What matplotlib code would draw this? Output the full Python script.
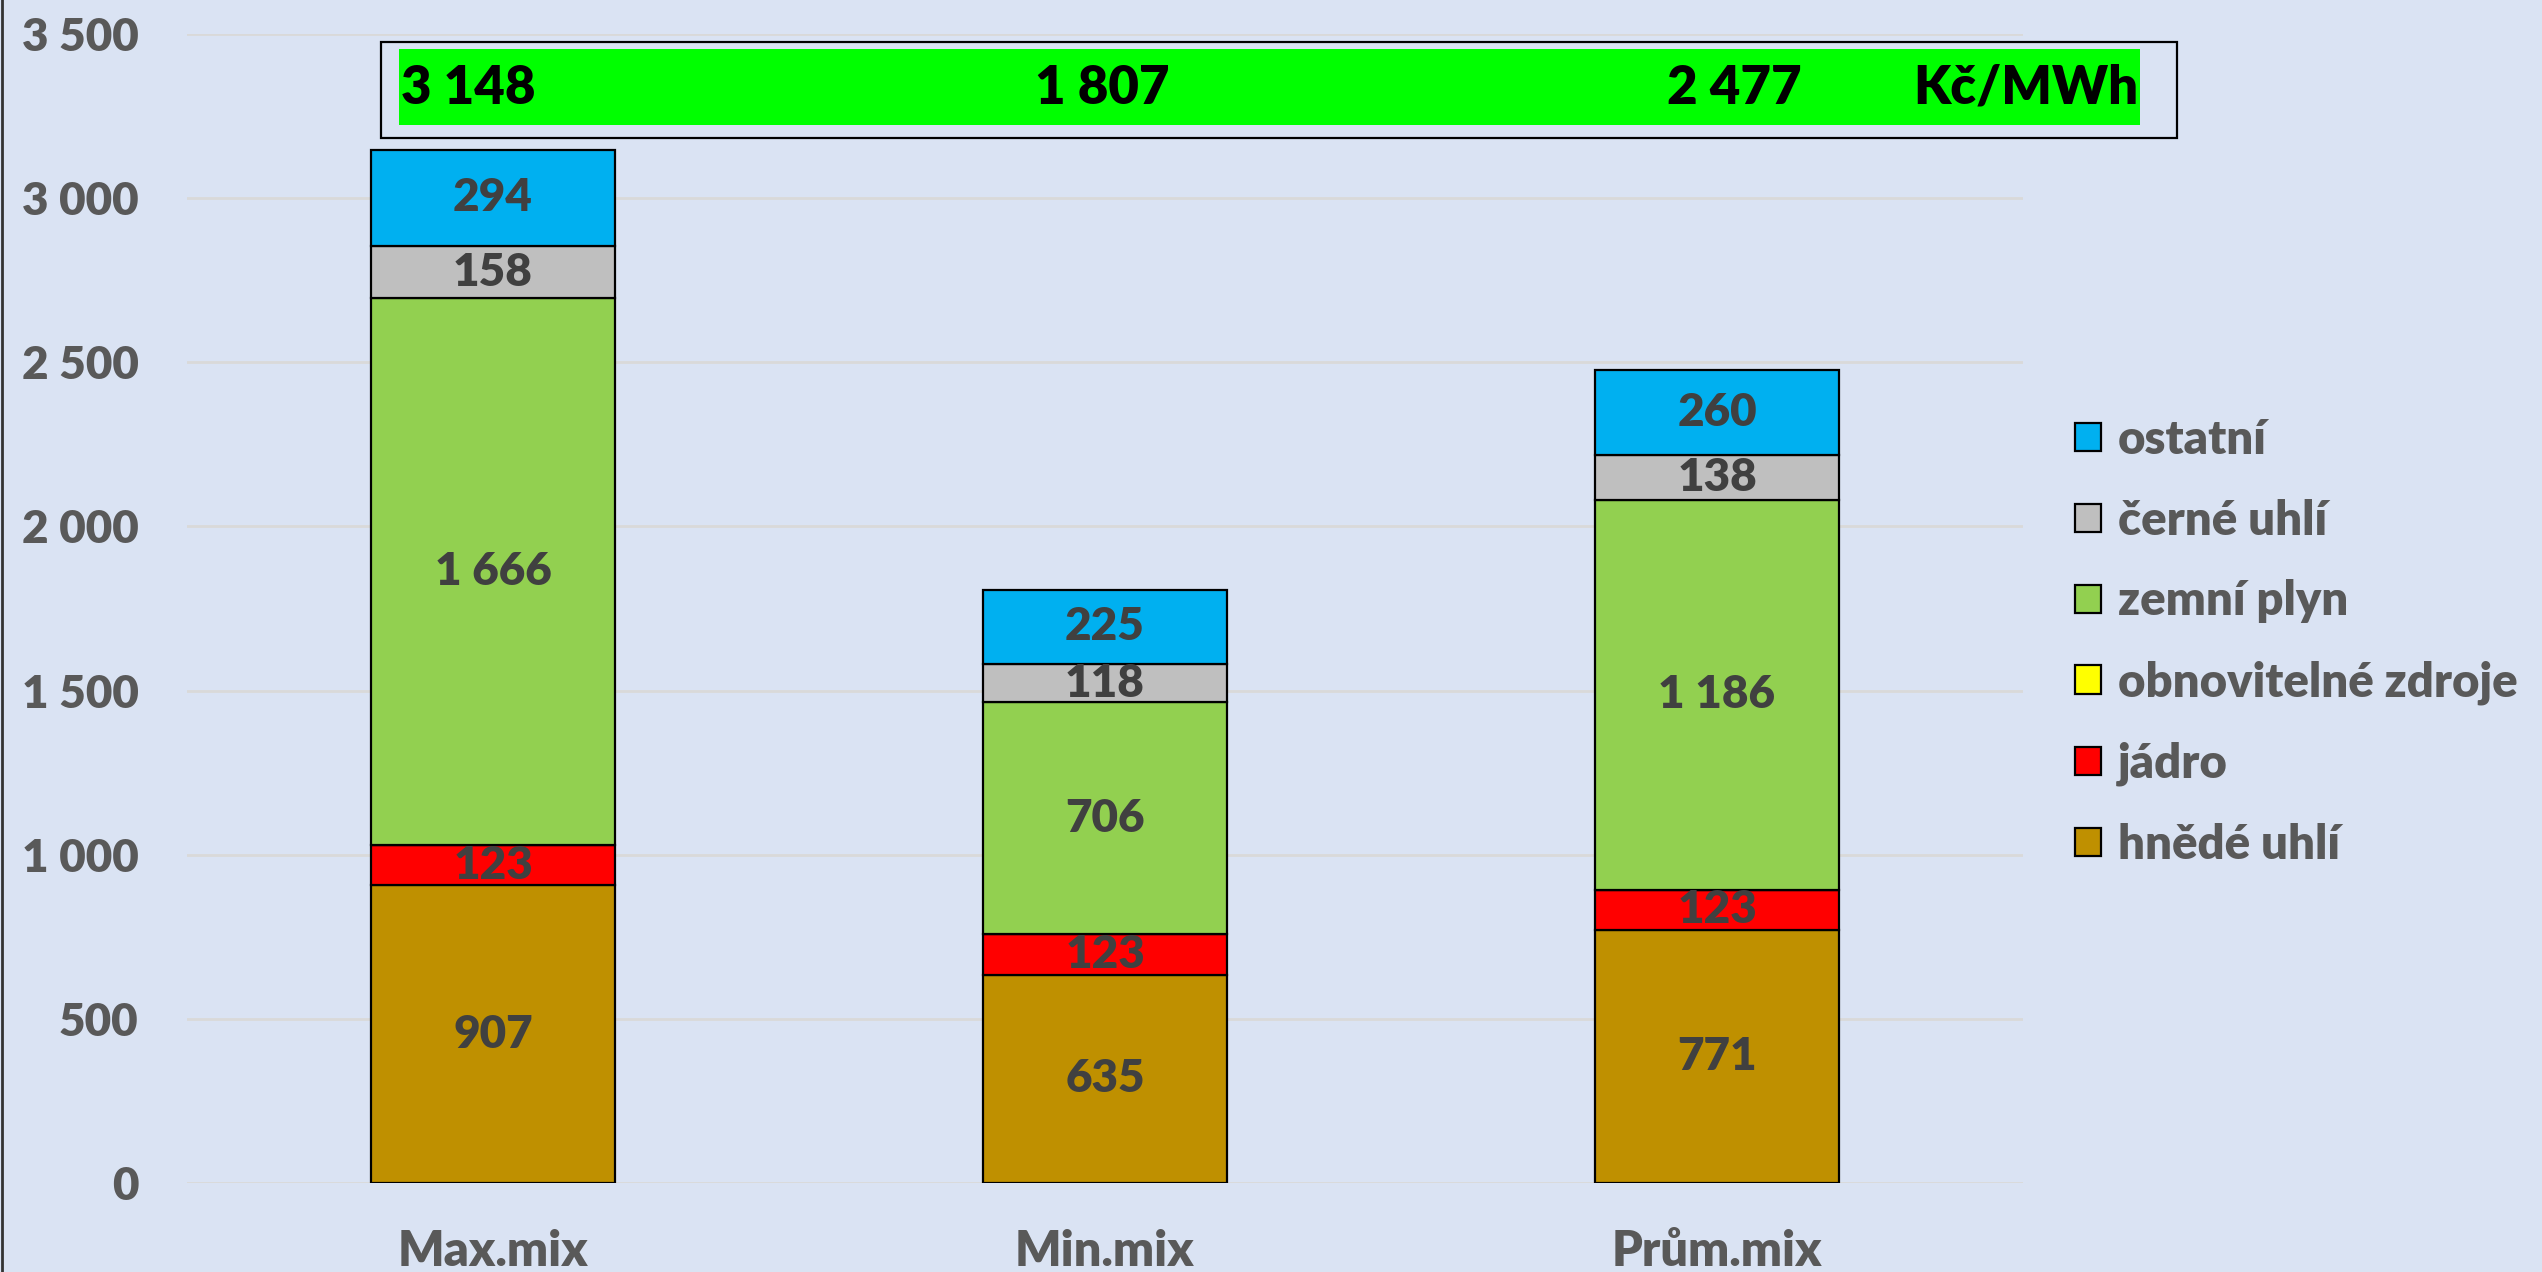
import numpy as np
import matplotlib
matplotlib.use("Agg")
import matplotlib.pyplot as plt
from matplotlib.patches import Rectangle, Patch

# data
categories = ["Max.mix", "Min.mix", "Prům.mix"]
series_names = ["hnědé uhlí", "jádro", "obnovitelné zdroje", "zemní plyn", "černé uhlí", "ostatní"]
hnede_uhli = [907, 635, 771]
jadro = [123, 123, 123]
obnovitelne = [0, 0, 0]
zemni_plyn = [1666, 706, 1186]
cerne_uhli = [158, 118, 138]
ostatni = [294, 225, 260]
totals = [3148, 1807, 2477]
unit = "Kč/MWh"
yticks = [0, 500, 1000, 1500, 2000, 2500, 3000, 3500]

colors = ["#BF9000", "#FF0000", "#FFFF00", "#92D050", "#BFBFBF", "#00B0F0"]
bg = "#DAE3F3"
grey_txt = "#595959"
label_txt = "#404040"
W = "heavy"

plt.rcParams['font.family'] = ['Lato', 'DejaVu Sans']
plt.rcParams['font.weight'] = W

fig = plt.figure(figsize=(25.42, 12.72), dpi=100, facecolor=bg)
ax = fig.add_axes([187 / 2542, 89 / 1272, (2023 - 187) / 2542, (1183 - 34) / 1272])
ax.set_facecolor(bg)

x = np.arange(len(categories))
bottom = np.zeros(len(categories))
all_series = [hnede_uhli, jadro, obnovitelne, zemni_plyn, cerne_uhli, ostatni]
for name, vals, col in zip(series_names, all_series, colors):
    vals = np.array(vals, dtype=float)
    ax.bar(x, vals, 0.4, bottom=bottom, color=col, edgecolor="black", linewidth=1.6, zorder=3)
    for xi, b, v in zip(x, bottom, vals):
        if v > 0:
            ax.text(xi, b + v / 2, f"{v:,.0f}".replace(",", " "), ha="center", va="center",
                    fontsize=33, color=label_txt, fontweight=W, zorder=4)
    bottom += vals

ax.set_xlim(-0.5, 2.5)
ax.set_ylim(0, 3500)
ax.set_yticks(yticks)
ax.set_yticklabels([f"{v:,}".replace(",", " ") for v in yticks], fontweight=W)
ax.set_xticks(x)
ax.set_xticklabels(categories, fontweight=W)
ax.tick_params(axis="y", length=0, pad=35, labelsize=33, labelcolor=grey_txt)
ax.tick_params(axis="x", length=0, pad=33, labelsize=35, labelcolor=grey_txt)
ax.grid(axis="y", color="#D9D9D9", linewidth=2, zorder=0)
for s in ax.spines.values():
    s.set_visible(False)

# box with totals (text box over the chart)
fig.patches.append(Rectangle((381 / 2542, 1 - 138 / 1272), (2177 - 381) / 2542, (138 - 42) / 1272,
                             transform=fig.transFigure, facecolor=bg, edgecolor="black", linewidth=1.6))
fig.patches.append(Rectangle((399 / 2542, 1 - 125 / 1272), (2140 - 399) / 2542, (125 - 49) / 1272,
                             transform=fig.transFigure, facecolor="#00FF00", edgecolor="none"))
ty = 1 - 88 / 1272
tot_x = [401 / 2542, 1102 / 2542, 1734 / 2542]
tot_ha = ["left", "center", "center"]
for tx, ha, t in zip(tot_x, tot_ha, totals):
    fig.text(tx, ty, f"{t:,}".replace(",", " "), ha=ha, va="center",
             fontsize=38, color="black", fontweight=W)
fig.text(2138 / 2542, ty, unit, ha="right", va="center", fontsize=38, color="black", fontweight=W)

# legend (top-down reversed)
handles = [Patch(facecolor=c, edgecolor="black", linewidth=1.6) for c in colors][::-1]
leg = fig.legend(handles, series_names[::-1], loc="center left", bbox_to_anchor=(2075 / 2542, 0.495),
                 frameon=False, prop={"size": 34, "weight": W}, labelcolor=grey_txt,
                 handlelength=0.55, handleheight=0.55, handletextpad=0.35, labelspacing=0.78,
                 borderpad=0, borderaxespad=0)

# left border line
fig.add_artist(plt.Line2D([0.0008, 0.0008], [0, 1], transform=fig.transFigure, color="#333333", linewidth=2))

fig.savefig("out.png", dpi=100, facecolor=bg)
